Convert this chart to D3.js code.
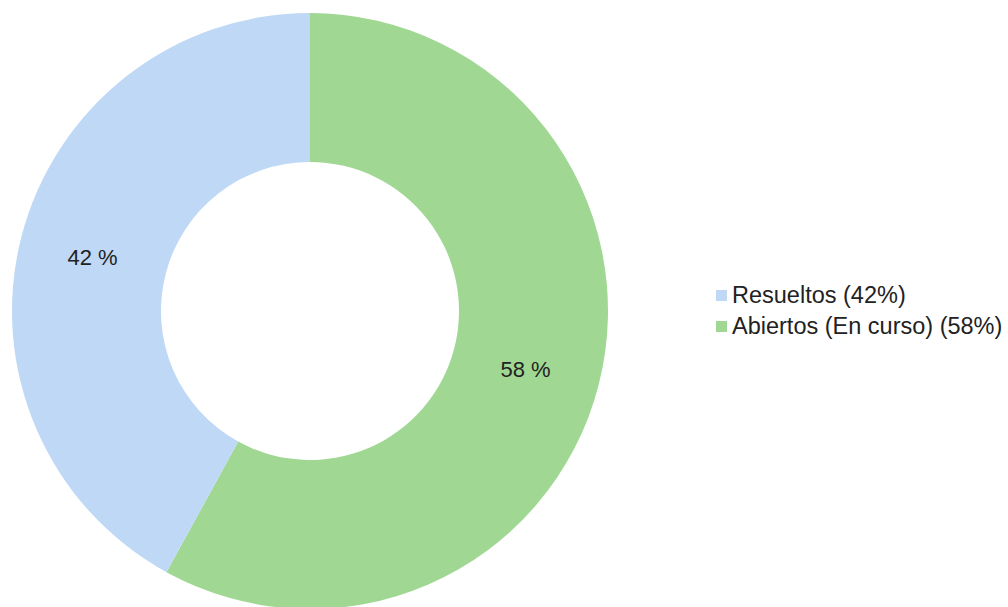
<!DOCTYPE html>
<html><head><meta charset="utf-8">
<script src="https://cdn.jsdelivr.net/npm/d3@7"></script>
<style>html,body{margin:0;padding:0;background:#fff;}svg{display:block;}</style>
</head><body>
<svg id="c" width="1008" height="607"></svg>
<script>
const categories = ["Resueltos", "Abiertos (En curso)"];
const values = [42, 58];
const colors = ["#bfd8f6", "#a0d793"];
const legendLabels = ["Resueltos (42%)", "Abiertos (En curso) (58%)"];

const svg = d3.select("#c");
const cx = 310, cy = 311, R = 298, r = 149;
const g = svg.append("g").attr("transform", `translate(${cx},${cy})`);

// Green (Abiertos) starts at 12 o'clock clockwise; Resueltos follows
const order = [1, 0];
const pie = d3.pie().sort(null).value(i => values[i]);
const arcs = pie(order);
const arc = d3.arc().innerRadius(r).outerRadius(R);
const labelArc = d3.arc().innerRadius((R + r) / 2).outerRadius((R + r) / 2);

g.selectAll("path").data(arcs).join("path")
  .attr("d", arc).attr("fill", d => colors[d.data]);

g.selectAll("text").data(arcs).join("text")
  .attr("transform", d => { const c = labelArc.centroid(d); return `translate(${c[0] - 1},${c[1] + 2})`; })
  .attr("text-anchor", "middle").attr("dy", "0.36em")
  .attr("font-family", "Liberation Sans, Arial, sans-serif")
  .attr("font-size", 22).attr("fill", "#222")
  .text(d => values[d.data] + " %");

const lg = svg.append("g").attr("transform", "translate(716,303)");
const items = lg.selectAll("g").data(categories.map((c, i) => i)).join("g")
  .attr("transform", (d, i) => `translate(0,${i * 31})`);
items.append("rect").attr("x", 0).attr("y", -13).attr("width", 11).attr("height", 11)
  .attr("fill", i => colors[i]);
items.append("text").attr("x", 16)
  .attr("font-family", "Liberation Sans, Arial, sans-serif")
  .attr("font-size", 23.5).attr("fill", "#222")
  .text(i => legendLabels[i]);
</script>
</body></html>
